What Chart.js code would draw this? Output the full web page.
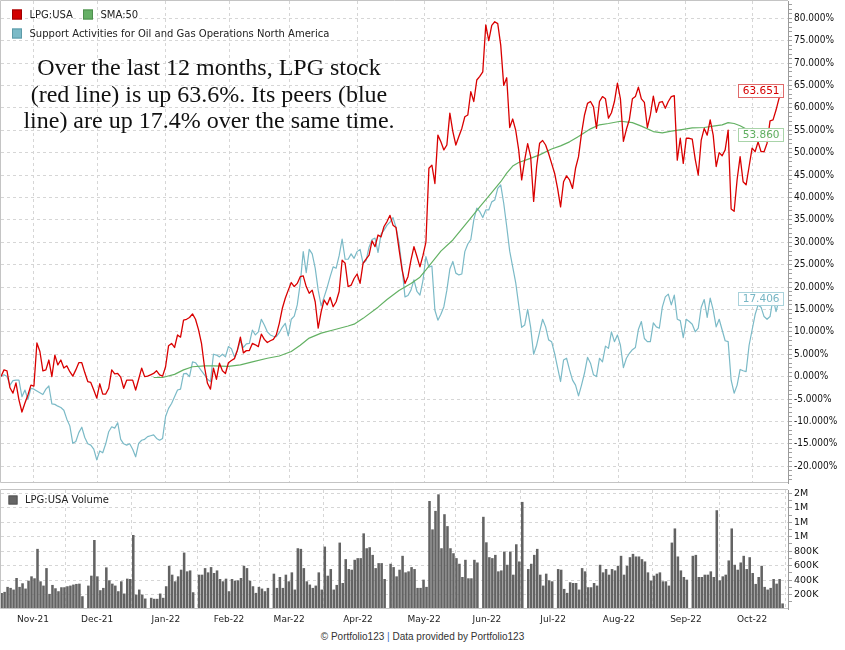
<!DOCTYPE html>
<html>
<head>
<meta charset="utf-8">
<script src="https://cdn.jsdelivr.net/npm/chart.js@4.4.1/dist/chart.umd.min.js"></script>
<style>
  html, body { margin: 0; padding: 0; background: #fff; }
  #wrap { position: relative; width: 845px; height: 650px; overflow: hidden; }
  #main { position: absolute; left: 0; top: 0; }
  #vol { position: absolute; left: 0; top: 486px; }
  #note {
    position: absolute; left: 0; top: 54px; width: 418px; text-align: center;
    font: 24px/26.7px "Liberation Serif", "Times New Roman", serif; color: #111;
  }
  #foot {
    position: absolute; left: 0; top: 631px; width: 845px; text-align: center;
    font: 10px "Liberation Sans", Arial, sans-serif; color: #333;
  }
  #foot span { color: #3a6fc4; }
</style>
</head>
<body>
<div id="wrap">
  <canvas id="main" width="845" height="486"></canvas>
  <canvas id="vol" width="845" height="144"></canvas>
  <div id="note">Over the last 12 months, LPG stock<br>(red line) is up 63.6%. Its peers (blue<br>line) are up 17.4% over the same time.</div>
  <div id="foot">© Portfolio123 <span>|</span> Data provided by Portfolio123</div>
</div>
<script>
// x axis = weekday number, day 0 = 15 Oct 2021
const seriesNames = ["LPG:USA", "SMA:50", "Support Activities for Oil and Gas Operations North America"];
const volumeName = "LPG:USA Volume";

const monthLabels = ["Nov-21", "Dec-21", "Jan-22", "Feb-22", "Mar-22", "Apr-22", "May-22", "Jun-22", "Jul-22", "Aug-22", "Sep-22", "Oct-22"];
const monthTicks = [10.7, 32.1, 55.1, 76.2, 96.3, 119.3, 141.4, 162.4, 184.5, 206.5, 228.9, 251];

// % change since day 0, one value per weekday
const lpg = [
  0, 1.5, 1.3, -2.5, -3.7, -1.4, -5.2, -7.9, -5.9, -4.1,
  -1.9, -2.1, 7.5, 5.6, 1.3, 1.5, 3.7, 0, 4.8, 2.6,
  3.7, 1.9, 2.4, 1.1, 0.1, 1.5, 3.1, 3.1, 0.9, -1.1,
  -1.3, -3.0, -4.8, -1.6, -3.9, -3.9, -2.6, 1.5, 0.6, 0.7,
  -0.1, -2.6, -0.8, -0.8, -0.8, -3.0, -0.6, 1.9, 0.0, 0.1,
  0.4, 0.7, 1.3, 0.4, 0.1, 2.2, 6.9, 7.4, 6.5, 9.3,
  8.8, 12.6, 12.8, 13.2, 14.0, 12.8, 10.5, 7.4, 2.2, -1.5,
  -2.8, 1.9, -0.6, 3.0, 1.3, 0.7, 3.1, 3.6, 4.0, 5.9,
  8.8, 5.3, 5.8, 5.8, 7.4, 7.1, 6.7, 9.5, 8.3, 7.6,
  8.0, 8.3, 9.3, 11.9, 15.2, 17.5, 19.3, 21.0, 20.1, 20.8,
  22.3, 22.5, 20.1, 18.6, 19.3, 16.7, 10.8, 14.5, 17.1, 16.0,
  17.7, 15.6, 16.7, 19.0, 26.0, 25.3, 20.1, 20.4, 21.9, 22.9,
  20.8, 25.3, 26.2, 27.1, 30.3, 29.0, 31.6, 31.2, 33.5, 34.6,
  36.0, 33.8, 33.3, 28.5, 24.0, 20.8, 22.3, 26.0, 29.0, 26.8,
  24.5, 27.0, 30.0, 46.5, 47.2, 43.1, 53.9, 52.4, 50.6, 51.7,
  58.8, 54.7, 51.7, 53.6, 55.4, 58.0, 58.4, 63.6, 61.4, 66.2,
  67.0, 68.0, 78.5, 75.0, 78.4, 79.2, 78.8, 74.0, 65.0, 66.7,
  55.6, 57.5, 55.0, 50.6, 43.9, 48.3, 52.0, 49.1, 39.1, 46.9,
  52.1, 52.7, 51.7, 49.8, 47.6, 45.4, 42.0, 37.9, 43.5, 44.8,
  43.9, 42.0, 46.5, 49.1, 54.3, 58.4, 61.0, 61.4, 60.2, 55.4,
  61.4, 62.5, 62.0, 57.7, 58.9, 61.4, 65.5, 62.0, 52.5, 55.2,
  57.4, 62.0, 62.5, 64.6, 62.0, 61.2, 55.6, 58.4, 62.6, 59.0,
  61.2, 61.4, 59.9, 61.4, 62.5, 62.7, 48.3, 53.2, 47.6, 53.2,
  53.2, 53.0, 48.5, 45.0, 52.8, 55.4, 53.9, 57.3, 53.9, 46.9,
  50.0, 49.3, 50.6, 55.0, 37.4, 36.9, 44.0, 49.1, 43.5, 42.8,
  46.9, 51.0, 50.2, 52.4, 50.2, 50.2, 52.1, 57.1, 57.3, 59.5,
  62.1, 63.651
];

const peers = [
  0, 0.4, 0, -1.9, -0.9, -0.8, -0.8, -4.5, -3.0, -5.1,
  -2.6, -2.8, -3.2, -3.6, -4.0, -2.8, -2.1, -6.1, -6.2, -6.6,
  -6.9, -7.5, -9.5, -11.0, -14.9, -14.5, -12.5, -11.3, -13.6, -15.0,
  -15.3, -16.2, -18.6, -16.6, -17.0, -15.0, -12.3, -11.2, -11.5, -10.3,
  -14.0, -15.0, -15.3, -15.0, -16.2, -17.9, -14.9, -14.2, -14.0, -13.4,
  -13.2, -13.0, -13.8, -14.2, -13.8, -8.9, -7.1, -6.0, -4.5, -3.0,
  -2.8, 0.6, 0.7, 0.0, 3.3, 3.1, 2.2, 1.3, 0.4, -0.6,
  -1.1, 5.0, 4.8, 4.4, 5.0, 4.4, 6.7, 6.2, 4.4, 5.9,
  8.0, 6.5, 7.3, 7.4, 10.4, 9.3, 10.0, 12.8, 11.5, 10.0,
  9.3, 9.0, 8.9, 9.8, 11.0, 11.9, 9.1, 12.8, 13.5, 16.0,
  20.8, 27.9, 23.2, 28.4, 27.4, 24.2, 19.3, 15.8, 17.8, 19.9,
  22.3, 24.5, 24.2, 27.0, 30.7, 26.2, 26.2, 27.4, 26.4, 27.9,
  28.4, 25.3, 25.9, 28.9, 30.6, 30.9, 27.7, 31.8, 32.7, 33.8,
  34.5, 35.5, 33.3, 29.9, 24.5, 17.8, 18.1, 19.3, 21.6, 19.0,
  18.2, 21.4, 26.8, 24.4, 24.7, 14.8, 12.6, 13.9, 15.6, 19.3,
  24.0, 25.7, 23.1, 22.7, 22.9, 27.9, 29.6, 30.6, 35.0, 37.6,
  36.8, 35.5, 37.2, 37.2, 39.0, 39.4, 42.0, 42.8, 38.7, 33.5,
  28.0, 24.5, 21.0, 16.0, 11.0, 11.5, 15.0, 11.0, 5.0, 7.0,
  10.0, 12.8, 11.1, 8.2, 7.8, 5.2, 2.0, -1.1, 3.7, 4.1,
  1.5, -0.8, -1.9, -4.3, -1.9, 0.8, 4.3, 3.0, 0.4, 0.0,
  4.1, 3.3, 6.8, 6.3, 10.0, 7.8, 9.3, 7.0, 2.0, 4.1,
  5.2, 6.0, 6.5, 10.5, 12.3, 8.5, 7.8, 7.8, 12.0, 11.1,
  10.8, 15.5, 17.8, 18.4, 16.0, 18.2, 12.8, 12.5, 8.7, 12.8,
  12.3, 11.7, 10.0, 10.8, 15.5, 17.2, 13.2, 17.5, 14.9, 11.1,
  12.8, 10.4, 8.0, 7.8, -0.8, -3.7, -1.9, 1.6, 1.3, 1.1,
  7.0, 10.4, 13.8, 16.0, 15.5, 13.4, 12.8, 13.4, 17.5, 14.5,
  17.1, 17.406
];

// 50-day average of LPG, every few days
const smaDays = [51, 54, 58, 61, 64, 68, 71, 76, 80, 84, 89, 93, 97, 100, 103, 107, 111, 116, 118, 121,
  126, 129, 133, 137, 140, 142, 147, 151, 156, 160, 163, 167, 169, 171, 173, 176, 180, 184, 187, 190,
  193, 197, 200, 203, 207, 211, 214, 218, 221, 224, 228, 231, 235, 238, 241, 243, 245, 247, 250, 253, 257, 261];
const smaValues = [-0.2, -0.2, 0.5, 1.5, 2.2, 2.4, 2.4, 2.3, 2.6, 3.3, 4.1, 4.6, 5.6, 7.0, 8.6, 9.7, 10.4, 11.3, 11.7, 13.0,
  15.5, 17.2, 19.2, 20.8, 22.2, 23.8, 28.0, 30.5, 34.6, 37.9, 40.3, 43.5, 45.4, 47.0, 47.8, 48.5, 49.5, 50.8, 51.5, 52.4,
  53.6, 55.3, 56.2, 56.5, 57.0, 56.7, 55.9, 54.7, 54.4, 54.8, 55.2, 55.5, 55.6, 55.9, 56.2, 56.7, 56.5, 56.0, 54.9, 54.4, 54.0, 53.86];

// daily volume in thousands of shares, null = market closed
const volumeK = [
  230, 223, 237, 306, 292, 269, 429, 306, 356, 283, 392,
  452, 425, 832, 383, 324, 566, 209, 333, 287, 246,
  301, 301, 315, 324, 338, 347, 351, 177, null, 324,
  461, 955, 452, 260, 292, 576, 397, 351, 324, 246,
  383, 214, 420, 415, 1024, 200, 269, 200, 145, null,
  155, 141, 141, 214, 155, 315, 598, 475, 383, 452,
  544, 781, 521, 534, 232, null, 475, 475, 566, 507,
  580, 498, 534, 415, 383, 420, 246, 415, 392, 397,
  429, 598, 566, 392, 315, 223, 306, 283, 246, 292,
  null, 489, 292, 443, 292, 475, 383, 507, 269, 841,
  832, 566, 383, 338, 292, 324, 507, 269, 864, 461,
  553, 269, 333, 919, 360, 690, 553, 544, 681, 704,
  704, 1047, 841, 855, 749, 566, 635, 635, 415, null,
  626, 580, 452, 544, 736, 507, 521, 580, 553, 292,
  292, 406, 306, 1495, 1102, 1358, 1587, 841, 1312, 1147,
  841, 772, 704, 626, 443, 681, 425, 425, 681, 644,
  null, 1276, 923, 717, 704, 749, 521, 534, 795, 612,
  795, 475, 896, 658, 1482, null, 553, 626, 749, 832,
  475, 324, 489, 397, 383, null, 553, 544, 278, 223,
  370, 360, 360, 269, 566, 521, 301, 301, 360, 324,
  612, 507, 553, 475, 553, 534, 598, 736, 475, 598,
  717, 763, 727, 727, 690, 658, 507, 392, 461, 489,
  507, 383, 383, 324, 919, 1115, 727, 534, 443, 406,
  null, 736, 749, 443, 443, 475, 475, 521, 443, 1367,
  397, 452, 475, 672, 1115, 612, 544, 644, 736, 553,
  717, 498, 347, 443, 598, 306, 269, 292, 415, 351,
  415, 77
];

const pctTicks = [-20, -15, -10, -5, 0, 5, 10, 15, 20, 25, 30, 35, 40, 45, 50, 55, 60, 65, 70, 75, 80];
const volTicks = [200, 400, 600, 800, 1000, 1200, 1400, 1600];
const volTickLabels = ["200K", "400K", "600K", "800K", "1M", "1M", "1M", "2M"];

Chart.defaults.font.family = '"DejaVu Sans", sans-serif';
Chart.defaults.color = "#222";

const gridColor = "#d6d6d6";
const axisFont = { family: '"DejaVu Sans Condensed", "DejaVu Sans", sans-serif', size: 10 };

function everyStep(from, to, step) {
  const t = [];
  for (let v = from; v <= to; v += step) t.push({ value: v });
  return t;
}

// light box round the plot, the right side is the axis itself
const frame = {
  id: "frame",
  afterDraw(chart) {
    const a = chart.chartArea;
    const c = chart.ctx;
    c.save();
    c.strokeStyle = "#c4c4c4";
    c.lineWidth = 1;
    c.beginPath();
    c.moveTo(a.right, a.top - 0.5);
    c.lineTo(a.left - 0.5, a.top - 0.5);
    c.lineTo(a.left - 0.5, a.bottom - 0.5);
    c.lineTo(a.right, a.bottom - 0.5);
    c.stroke();
    c.restore();
  }
};

const boxLegend = {
  id: "boxLegend",
  afterDraw(chart, args, opts) {
    const c = chart.ctx;
    c.save();
    c.font = '10px "DejaVu Sans", sans-serif';
    c.textBaseline = "alphabetic";
    opts.items.forEach(it => {
      c.fillStyle = it.fill;
      c.fillRect(it.x, it.y, it.size, it.size);
      c.strokeStyle = it.edge;
      c.strokeRect(it.x + 0.5, it.y + 0.5, it.size - 1, it.size - 1);
      c.fillStyle = "#222";
      c.fillText(it.text, it.x + it.size + 7.5, it.y + it.size - 1.5);
    });
    c.restore();
  }
};

// boxed last value at the right end of a line
const lastTags = {
  id: "lastTags",
  afterDatasetsDraw(chart) {
    const c = chart.ctx;
    const a = chart.chartArea;
    const y = chart.scales.y;
    c.save();
    c.font = '10.5px "DejaVu Sans", sans-serif';
    c.textBaseline = "middle";
    c.textAlign = "right";
    chart.data.datasets.forEach(ds => {
      if (!ds.tag) return;
      const last = ds.data[ds.data.length - 1].y;
      const txt = last.toFixed(3);
      const w = Math.round(c.measureText(txt).width + 9);
      const h = 14;
      const right = a.right - 4;
      const py = Math.round(y.getPixelForValue(last));
      c.fillStyle = "rgba(255,255,255,0.92)";
      c.fillRect(right - w, py - h / 2, w, h);
      c.strokeStyle = ds.tag.edge;
      c.strokeRect(right - w + 0.5, py - h / 2 + 0.5, w - 1, h - 1);
      c.fillStyle = ds.tag.text;
      c.fillText(txt, right - 4.5, py + 0.5);
    });
    c.restore();
  }
};

new Chart(document.getElementById("main"), {
  type: "line",
  data: {
    datasets: [
      {
        label: seriesNames[0],
        data: lpg.map((v, i) => ({ x: i, y: v })),
        borderColor: "#d90000",
        borderWidth: 1.3,
        tag: { edge: "#e06a6a", text: "#d60000" }
      },
      {
        label: seriesNames[1],
        data: smaDays.map((d, k) => ({ x: d, y: smaValues[k] })),
        borderColor: "#63b163",
        borderWidth: 1.2,
        tag: { edge: "#a9d4a9", text: "#5fae5f" }
      },
      {
        label: seriesNames[2],
        data: peers.map((v, i) => ({ x: i, y: v })),
        borderColor: "#7bbac7",
        borderWidth: 1.2,
        tag: { edge: "#a9d2db", text: "#77b6c4" }
      }
    ]
  },
  options: {
    responsive: false,
    animation: false,
    events: [],
    layout: { padding: { left: 1, top: 1, right: 0, bottom: 3 } },
    elements: { point: { radius: 0 }, line: { tension: 0, borderJoinStyle: "round" } },
    plugins: {
      legend: { display: false },
      tooltip: { enabled: false },
      boxLegend: {
        items: [
          { x: 12, y: 9.5, size: 10, fill: "#d20000", edge: "#a00000", text: seriesNames[0] },
          { x: 83, y: 9.5, size: 10, fill: "#66b066", edge: "#4e904e", text: seriesNames[1] },
          { x: 12, y: 28.5, size: 10, fill: "#7bbac7", edge: "#5d9aa7", text: seriesNames[2] }
        ]
      }
    },
    scales: {
      x: {
        type: "linear",
        min: 0,
        max: 263,
        afterBuildTicks: s => { s.ticks = monthTicks.map(v => ({ value: v })); },
        ticks: { display: false },
        grid: { color: gridColor, drawTicks: false },
        border: { display: false, dash: [3, 3] },
        afterFit: s => { s.height = 0; s.paddingLeft = 0; s.paddingRight = 0; }
      },
      y: {
        position: "right",
        min: -23.75,
        max: 83.84,
        afterBuildTicks: s => { s.ticks = everyStep(-23, 83, 1); },
        ticks: {
          autoSkip: false,
          padding: 2,
          color: "#111",
          font: axisFont,
          callback: v => pctTicks.includes(v) ? v.toFixed(3) + "%" : ""
        },
        grid: {
          color: c => pctTicks.includes(c.tick.value) ? gridColor : "rgba(0,0,0,0)",
          tickColor: "#a0a0a0",
          tickLength: 4
        },
        border: { color: "#9a9a9a", dash: [3, 3] },
        afterFit: s => { s.width = 57; s.paddingTop = 0; s.paddingBottom = 0; }
      }
    }
  },
  plugins: [frame, lastTags, boxLegend]
});

new Chart(document.getElementById("vol"), {
  type: "bar",
  data: {
    datasets: [{
      label: volumeName,
      data: volumeK.map((v, n) => ({ x: n - 0.8, y: v })),
      backgroundColor: "#636363",
      borderWidth: 0,
      barPercentage: 1,
      categoryPercentage: 0.85
    }]
  },
  options: {
    responsive: false,
    animation: false,
    events: [],
    layout: { padding: { left: 1, top: 4, right: 0, bottom: 0 } },
    plugins: {
      legend: { display: false },
      tooltip: { enabled: false },
      boxLegend: {
        items: [{ x: 8.5, y: 9.5, size: 9, fill: "#666666", edge: "#555555", text: volumeName }]
      }
    },
    scales: {
      x: {
        type: "linear",
        offset: false,
        min: 0,
        max: 263,
        afterBuildTicks: s => { s.ticks = monthTicks.map(v => ({ value: v })); },
        ticks: {
          autoSkip: false,
          maxRotation: 0,
          padding: 5,
          color: "#222",
          font: { family: '"DejaVu Sans", sans-serif', size: 9 },
          callback: (v, i) => monthLabels[i]
        },
        grid: { color: gridColor, drawTicks: false },
        border: { display: false, dash: [3, 3] },
        afterFit: s => { s.height = 21; s.paddingLeft = 0; s.paddingRight = 0; }
      },
      y: {
        position: "right",
        min: 0,
        max: 1647,
        afterBuildTicks: s => { s.ticks = everyStep(100, 1600, 100); },
        ticks: {
          autoSkip: false,
          padding: 2,
          color: "#111",
          font: { family: '"DejaVu Sans", sans-serif', size: 9.5 },
          callback: v => {
            const k = volTicks.indexOf(v);
            return k >= 0 ? volTickLabels[k] : "";
          }
        },
        grid: {
          color: c => volTicks.includes(c.tick.value) ? gridColor : "rgba(0,0,0,0)",
          tickColor: "#a0a0a0",
          tickLength: 4
        },
        border: { color: "#9a9a9a", dash: [3, 3] },
        afterFit: s => { s.width = 57; s.paddingTop = 0; s.paddingBottom = 0; }
      }
    }
  },
  plugins: [frame, boxLegend]
});
</script>
</body>
</html>
